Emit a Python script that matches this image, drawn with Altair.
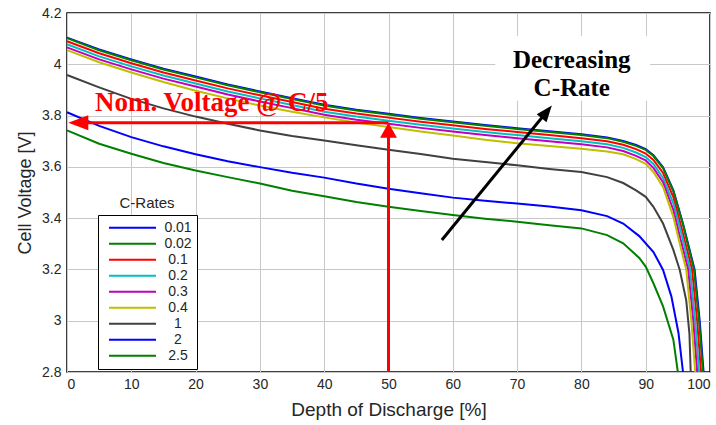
import altair as alt
import pandas as pd

SERIES = ["0.01", "0.02", "0.1", "0.2", "0.3", "0.4", "1", "2", "2.5"]
COLORS = ["#0000ff", "#008000", "#ff0000", "#00bfbf", "#bf00bf", "#bfbf00", "#404040", "#0000ff", "#008000"]

DOD_FLAT = [0, 5, 10, 15, 20, 25, 30, 35, 40, 45, 50, 55, 60, 65, 70, 75, 80, 84, 86.5]

dod_001 = DOD_FLAT + [88.5, 90, 91.2, 92.7, 94.3, 95.8, 97.6, 98.4, 99.0]
v_001 = [4.104, 4.058, 4.019, 3.983, 3.952, 3.921, 3.894, 3.868, 3.842, 3.823, 3.807, 3.791, 3.777, 3.763,
         3.751, 3.739, 3.727, 3.715, 3.701, 3.685, 3.669, 3.645, 3.598, 3.508, 3.378, 3.20, 3.00, 2.80]

dod_002 = DOD_FLAT + [88.5, 90, 91.2, 92.7, 94.3, 95.8, 97.5, 98.3, 98.9]
v_002 = [4.102, 4.055, 4.016, 3.980, 3.949, 3.918, 3.891, 3.865, 3.839, 3.820, 3.804, 3.788, 3.774, 3.760,
         3.748, 3.736, 3.724, 3.712, 3.698, 3.682, 3.666, 3.642, 3.595, 3.505, 3.375, 3.20, 3.00, 2.80]

dod_01 = DOD_FLAT + [88.5, 90, 91.2, 92.7, 94.3, 95.6, 97.2, 98.0, 98.6]
v_01 = [4.090, 4.043, 4.004, 3.968, 3.937, 3.906, 3.879, 3.853, 3.827, 3.808, 3.792, 3.776, 3.762, 3.748,
        3.736, 3.724, 3.712, 3.700, 3.686, 3.669, 3.652, 3.627, 3.576, 3.482, 3.36, 3.20, 3.00, 2.80]

dod_02 = DOD_FLAT + [88.5, 90, 91.2, 92.7, 94.3, 95.5, 96.9, 97.7, 98.3]
v_02 = [4.078, 4.031, 3.992, 3.956, 3.925, 3.894, 3.867, 3.841, 3.815, 3.796, 3.780, 3.764, 3.750, 3.736,
        3.724, 3.712, 3.700, 3.688, 3.674, 3.656, 3.638, 3.611, 3.557, 3.458, 3.345, 3.20, 3.00, 2.80]

dod_03 = DOD_FLAT + [88.5, 90, 91.2, 92.7, 94.3, 95.4, 96.6, 97.4, 98.0]
v_03 = [4.066, 4.019, 3.980, 3.944, 3.913, 3.882, 3.855, 3.829, 3.803, 3.784, 3.768, 3.752, 3.738, 3.724,
        3.712, 3.700, 3.688, 3.676, 3.662, 3.643, 3.625, 3.596, 3.540, 3.432, 3.32, 3.20, 3.00, 2.80]

dod_04 = DOD_FLAT + [88.5, 90, 91.2, 92.7, 94.3, 95.3, 96.3, 97.1, 97.7]
v_04 = [4.055, 4.008, 3.968, 3.931, 3.897, 3.867, 3.839, 3.815, 3.793, 3.773, 3.755, 3.738, 3.722, 3.706,
        3.692, 3.681, 3.671, 3.660, 3.649, 3.630, 3.612, 3.580, 3.522, 3.405, 3.30, 3.20, 3.00, 2.80]

dod_1 = DOD_FLAT + [88.5, 90, 91.2, 92.7, 94.3, 95.3, 96.3, 96.8, 97.0]
v_1 = [3.958, 3.910, 3.865, 3.828, 3.796, 3.768, 3.742, 3.720, 3.703, 3.684, 3.667, 3.650, 3.632, 3.619,
       3.606, 3.592, 3.580, 3.560, 3.537, 3.508, 3.483, 3.444, 3.379, 3.276, 3.198, 3.08, 2.95, 2.80]

dod_2 = DOD_FLAT + [89, 91.2, 92.7, 94.0, 95.1, 95.8]
v_2 = [3.813, 3.760, 3.716, 3.680, 3.649, 3.622, 3.599, 3.577, 3.558, 3.535, 3.515, 3.497, 3.480, 3.468,
       3.457, 3.445, 3.431, 3.408, 3.379, 3.330, 3.268, 3.198, 3.094, 2.952, 2.80]

dod_25 = DOD_FLAT + [89, 90, 91.2, 92.7, 94.3, 95.0]
v_25 = [3.742, 3.690, 3.651, 3.615, 3.586, 3.560, 3.535, 3.507, 3.485, 3.463, 3.444, 3.428, 3.412, 3.398,
        3.386, 3.372, 3.360, 3.334, 3.302, 3.245, 3.211, 3.146, 3.056, 2.926, 2.80]

CURVES = [(dod_001, v_001), (dod_002, v_002), (dod_01, v_01), (dod_02, v_02), (dod_03, v_03),
          (dod_04, v_04), (dod_1, v_1), (dod_2, v_2), (dod_25, v_25)]

X_TICKS = [0, 10, 20, 30, 40, 50, 60, 70, 80, 90, 100]
Y_TICKS = [2.8, 3.0, 3.2, 3.4, 3.6, 3.8, 4.0, 4.2]

# annotation values (data space)
NOM_V = 3.772
NOM_DOD = 50
ARROW_TAIL = (58.3, 3.315)
ARROW_TIP = (75.4, 3.839)

rows = []
for s_i, (name, (dd, vv)) in enumerate(zip(SERIES, CURVES)):
    for k, (d, v) in enumerate(zip(dd, vv)):
        rows.append({"series": name, "dod": d, "v": v, "ord": k, "si": s_i})
df = pd.DataFrame(rows)

xs = alt.Scale(domain=[0, 100], nice=False, zero=False)
ys = alt.Scale(domain=[2.8, 4.2], nice=False, zero=False)

FONT = "Liberation Sans"

curves = alt.Chart(df).mark_line(strokeWidth=2).encode(
    x=alt.X("dod:Q", scale=xs,
            axis=alt.Axis(values=X_TICKS, title="Depth of Discharge [%]", grid=True, gridColor="#c8c8c8",
                          domain=False, ticks=False, labelFontSize=14, labelFont=FONT, labelColor="#262626",
                          labelPadding=5, titleFont=FONT, titleFontSize=19, titleFontWeight="normal",
                          titleColor="#262626", titlePadding=9)),
    y=alt.Y("v:Q", scale=ys,
            axis=alt.Axis(values=Y_TICKS, format="~g", title="Cell Voltage [V]", grid=True, gridColor="#c8c8c8",
                          domain=False, ticks=False, labelFontSize=14, labelFont=FONT, labelColor="#262626",
                          labelPadding=6, titleFont=FONT, titleFontSize=18, titleFontWeight="normal",
                          titleColor="#262626", titlePadding=7)),
    color=alt.Color("series:N", sort=SERIES,
                    scale=alt.Scale(domain=SERIES, range=COLORS),
                    legend=alt.Legend(orient="none", legendX=31, legendY=202, title=None,
                                      symbolType="stroke", symbolSize=2209, symbolStrokeWidth=2,
                                      clipHeight=15.6, rowPadding=0, padding=5,
                                      strokeColor="black", fillColor="white",
                                      labelFont=FONT, labelFontSize=14, labelColor="#262626",
                                      labelAlign="center", labelOffset=21, symbolOffset=5)),
    order=alt.Order("ord:Q"),
    detail="si:N",
)

legend_title = alt.Chart(pd.DataFrame({"t": ["C-Rates"]})).mark_text(
    font=FONT, fontSize=15, color="#262626", align="center", baseline="middle"
).encode(x=alt.value(80), y=alt.value(190), text="t:N")

red_h = alt.Chart(pd.DataFrame({"dod": [1.5, NOM_DOD], "v": [NOM_V, NOM_V]})).mark_line(
    color="#ff0000", strokeWidth=3).encode(x=alt.X("dod:Q", scale=xs), y=alt.Y("v:Q", scale=ys))
red_v = alt.Chart(pd.DataFrame({"dod": [NOM_DOD, NOM_DOD], "v": [2.8, NOM_V - 0.04]})).mark_line(
    color="#ff0000", strokeWidth=3).encode(x=alt.X("dod:Q", scale=xs), y=alt.Y("v:Q", scale=ys))
red_head_left = alt.Chart(pd.DataFrame({"dod": [0.2], "v": [NOM_V]})).mark_point(
    filled=True, opacity=1, color="#ff0000", shape="M0,0L2,-0.75L2,0.75Z", size=400
).encode(x=alt.X("dod:Q", scale=xs), y=alt.Y("v:Q", scale=ys))
red_head_up = alt.Chart(pd.DataFrame({"dod": [NOM_DOD], "v": [NOM_V]})).mark_point(
    filled=True, opacity=1, color="#ff0000", shape="M0,0L0.9,1.6L-0.9,1.6Z", size=352
).encode(x=alt.X("dod:Q", scale=xs), y=alt.Y("v:Q", scale=ys))
nom_text = alt.Chart(pd.DataFrame({"dod": [4.35], "v": [3.819], "t": ["Nom. Voltage @ C/5"]})).mark_text(
    font="Liberation Serif", fontWeight="bold", fontSize=27, color="#ff0000", align="left", baseline="alphabetic"
).encode(x=alt.X("dod:Q", scale=xs), y=alt.Y("v:Q", scale=ys), text="t:N")

white_box = alt.Chart(pd.DataFrame({"x1": [66.6], "x2": [90.7], "y1": [3.858], "y2": [4.11]})).mark_rect(
    color="white").encode(x=alt.X("x1:Q", scale=xs), x2="x2:Q", y=alt.Y("y1:Q", scale=ys), y2="y2:Q")
dec_text = alt.Chart(pd.DataFrame({"dod": [78.5, 78.5], "v": [3.985, 3.877], "t": ["Decreasing", "C-Rate"]})).mark_text(
    font="Liberation Serif", fontWeight="bold", fontSize=25, color="black", align="center", baseline="alphabetic"
).encode(x=alt.X("dod:Q", scale=xs), y=alt.Y("v:Q", scale=ys), text="t:N")

blk_line = alt.Chart(pd.DataFrame({"dod": [ARROW_TAIL[0], 74.6], "v": [ARROW_TAIL[1], 3.815]})).mark_line(
    color="black", strokeWidth=3).encode(x=alt.X("dod:Q", scale=xs), y=alt.Y("v:Q", scale=ys))
blk_head = alt.Chart(pd.DataFrame({"dod": [ARROW_TIP[0]], "v": [ARROW_TIP[1]]})).mark_point(
    filled=True, opacity=1, color="black", shape="M0,0L0.7,1.8L-0.7,1.8Z", size=324, angle=39
).encode(x=alt.X("dod:Q", scale=xs), y=alt.Y("v:Q", scale=ys))

chart = alt.layer(
    white_box, curves, red_h, red_v, red_head_left, red_head_up, nom_text,
    dec_text, blk_line, blk_head, legend_title
).properties(
    width=643, height=359,
    autosize=alt.AutoSizeParams(type="none"),
    padding={"left": 67, "top": 13, "right": 6, "bottom": 53},
    background="white",
).configure_view(stroke="black", strokeWidth=1.5)

chart.save("out.html", embed_options={"renderer": "svg", "actions": False})
